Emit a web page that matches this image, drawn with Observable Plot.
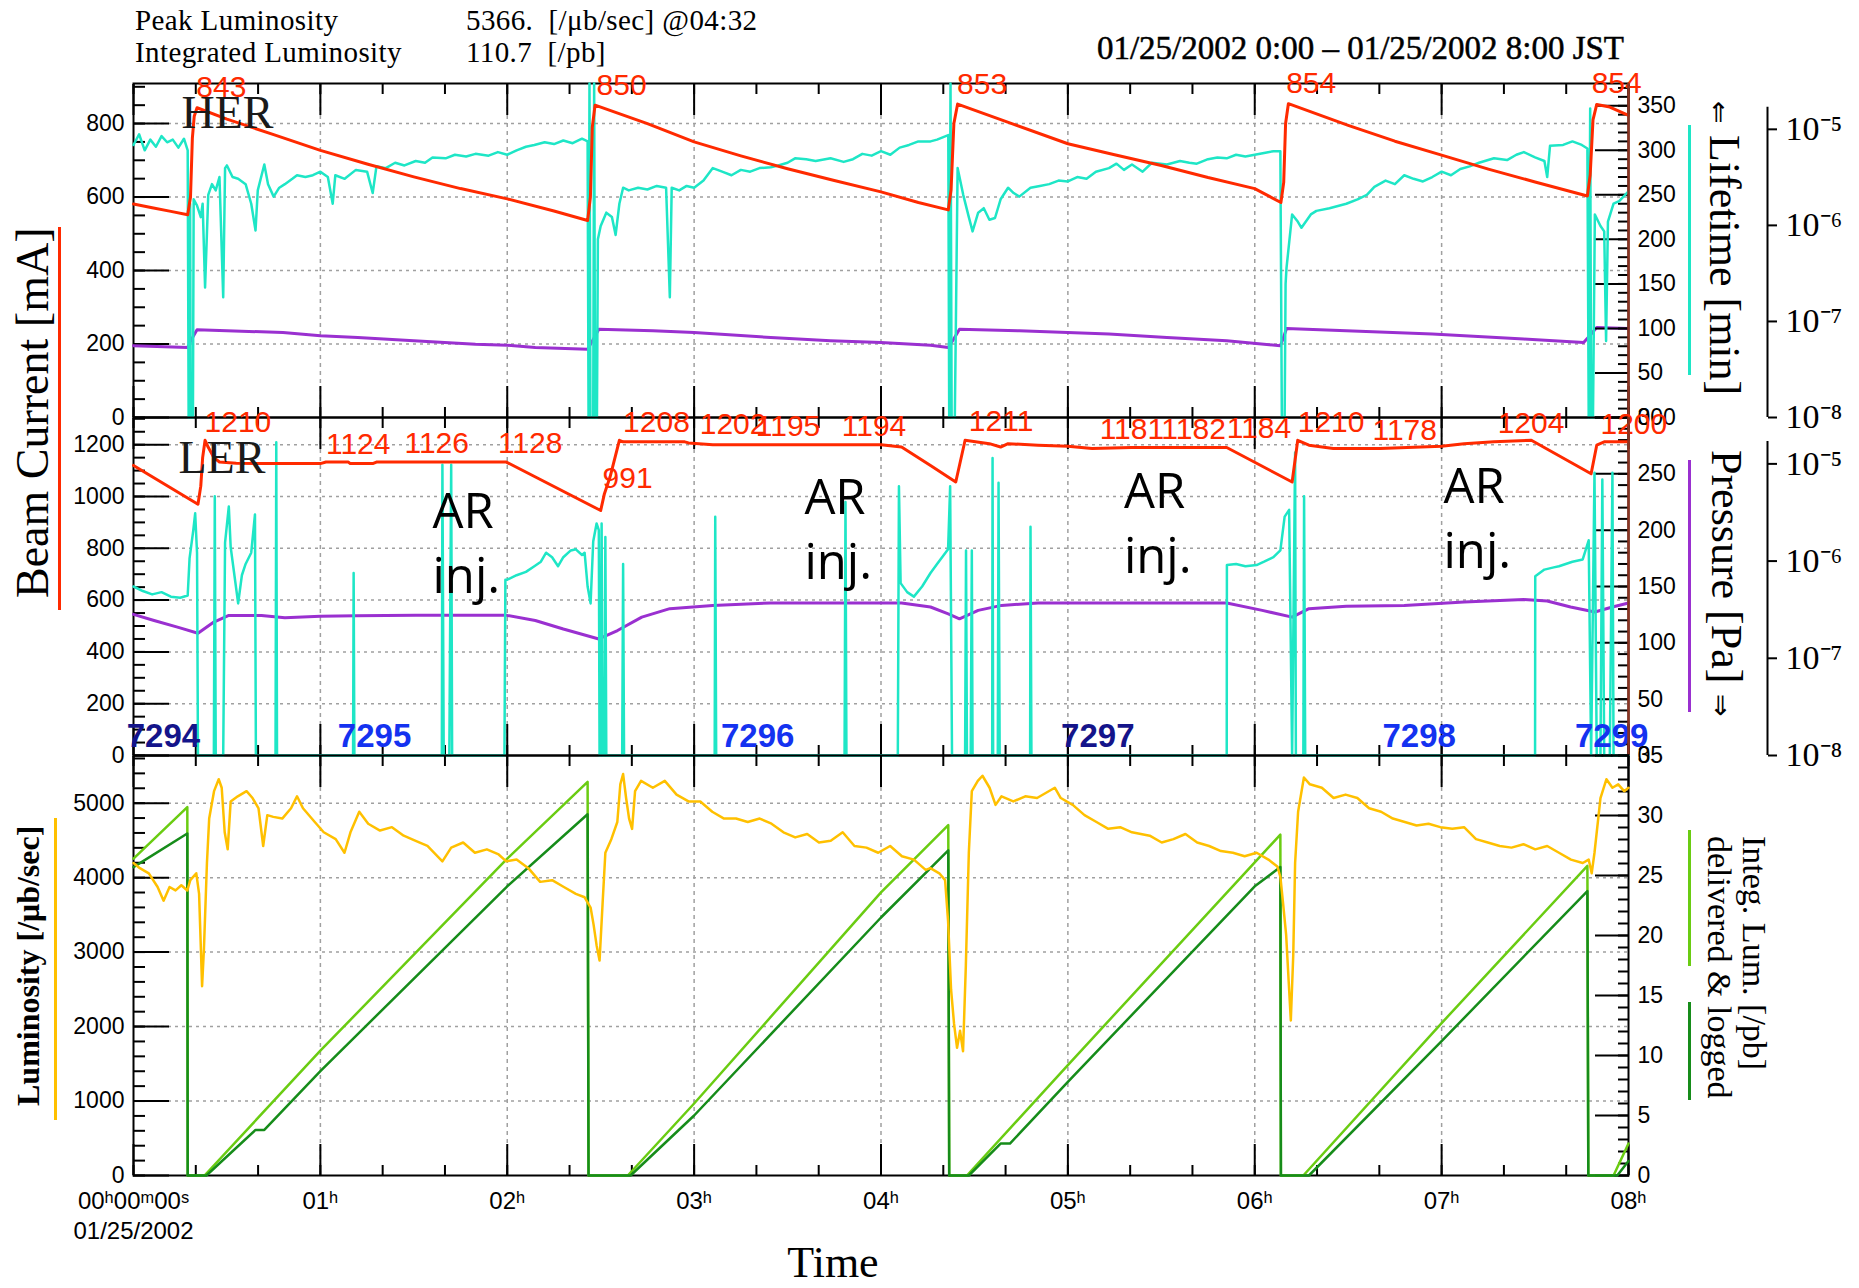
<!DOCTYPE html>
<html><head><meta charset="utf-8">
<script src="https://cdn.jsdelivr.net/npm/d3@7"></script>
<script src="https://cdn.jsdelivr.net/npm/@observablehq/plot@0.6"></script>
<style>
html,body{margin:0;padding:0;background:#fff;}
#chart{position:relative;width:1859px;height:1288px;overflow:hidden;background:#fff;}
#chart svg{position:absolute;left:0;top:0;}
.lbl{position:absolute;white-space:pre;line-height:1;color:#000;font-family:'Liberation Serif','Times New Roman',serif;}
.rotL{transform-origin:0 0;transform:rotate(-90deg);}
.rotR{transform-origin:0 0;transform:rotate(90deg);}
.bar{position:absolute;}
</style></head>
<body><div id="chart"></div>
<script>
// ---------------- data (time in hours since 01/25/2002 00:00 JST) ----------------
const xDomain = [0, 8];
const hourTicks = [0, 1, 2, 3, 4, 5, 6, 7, 8];

// HER beam current [mA]
const herCurrent = [[0,581],[0.1,571],[0.2,561],[0.29,552],[0.305,600],[0.315,760],[0.325,820],[0.34,843],[0.5,812],[0.75,770],[1.0,727],[1.25,690],[1.5,655],[1.75,623],[2.0,595],[2.25,562],[2.43,536],[2.445,600],[2.455,790],[2.47,850],[2.75,800],[3.0,750],[3.25,712],[3.5,677],[3.75,645],[4.0,614],[4.2,585],[4.36,565],[4.375,620],[4.39,800],[4.41,853],[4.7,800],[5.0,745],[5.25,715],[5.5,686],[5.75,653],[6.0,623],[6.14,585],[6.155,640],[6.165,800],[6.18,854],[6.5,795],[6.75,752],[7.0,714],[7.25,676],[7.5,641],[7.78,603],[7.795,660],[7.81,810],[7.83,852],[7.9,845],[8.0,822]];
// HER lifetime [min]
const herLifetime = [[0,306],[0.03,318],[0.06,300],[0.09,312],[0.12,304],[0.15,316],[0.18,309],[0.21,312],[0.24,303],[0.27,313],[0.29,300],[0.295,0],[0.30,0],[0.303,240],[0.306,0],[0.318,0],[0.322,245],[0.34,238],[0.36,225],[0.37,240],[0.383,146],[0.40,250],[0.42,262],[0.44,255],[0.46,270],[0.48,135],[0.49,280],[0.50,283],[0.53,270],[0.56,268],[0.60,262],[0.63,240],[0.653,210],[0.665,255],[0.70,284],[0.72,262],[0.75,248],[0.78,258],[0.81,262],[0.85,268],[0.875,272],[0.92,270],[0.96,272],[1.0,276],[1.04,270],[1.066,240],[1.08,272],[1.13,268],[1.19,278],[1.25,276],[1.28,252],[1.3,282],[1.35,280],[1.4,286],[1.45,283],[1.51,288],[1.56,286],[1.6,292],[1.67,291],[1.72,295],[1.78,293],[1.83,296],[1.9,294],[1.95,298],[2.0,295],[2.05,300],[2.1,304],[2.145,306],[2.2,309],[2.25,307],[2.3,311],[2.35,308],[2.4,313],[2.43,310],[2.435,0],[2.44,375],[2.445,0],[2.46,0],[2.465,375],[2.47,0],[2.48,0],[2.485,200],[2.5,215],[2.53,230],[2.56,225],[2.58,205],[2.6,240],[2.62,258],[2.65,255],[2.7,258],[2.75,256],[2.8,260],[2.85,258],[2.87,135],[2.88,258],[2.92,255],[2.96,260],[3.0,258],[3.05,266],[3.1,280],[3.15,276],[3.2,272],[3.25,278],[3.3,276],[3.35,280],[3.41,281],[3.45,283],[3.5,286],[3.54,291],[3.6,290],[3.65,288],[3.73,291],[3.8,287],[3.85,290],[3.9,296],[3.95,294],[4.0,299],[4.05,295],[4.1,303],[4.15,306],[4.2,310],[4.265,310],[4.3,312],[4.36,317],[4.365,0],[4.372,375],[4.378,0],[4.395,0],[4.41,280],[4.44,250],[4.47,225],[4.49,209],[4.52,230],[4.55,235],[4.58,222],[4.61,224],[4.64,245],[4.68,258],[4.71,252],[4.74,248],[4.8,258],[4.85,260],[4.9,262],[4.95,266],[5.0,265],[5.05,270],[5.1,268],[5.15,276],[5.22,280],[5.26,285],[5.3,278],[5.343,284],[5.4,276],[5.45,286],[5.53,284],[5.6,288],[5.65,286],[5.69,285],[5.75,290],[5.8,292],[5.85,291],[5.9,295],[5.95,293],[6.0,295],[6.05,297],[6.1,299],[6.137,299],[6.145,0],[6.16,0],[6.165,150],[6.17,168],[6.2,228],[6.23,220],[6.25,213],[6.3,228],[6.33,232],[6.4,235],[6.49,240],[6.55,245],[6.6,250],[6.64,259],[6.7,266],[6.75,262],[6.8,272],[6.85,268],[6.9,265],[6.95,270],[7.0,276],[7.05,272],[7.1,279],[7.15,282],[7.2,286],[7.28,291],[7.35,289],[7.4,295],[7.44,298],[7.5,292],[7.55,288],[7.565,270],[7.58,305],[7.65,306],[7.7,310],[7.75,306],[7.78,302],[7.787,0],[7.795,347],[7.80,0],[7.81,0],[7.82,228],[7.85,215],[7.87,209],[7.88,86],[7.89,220],[7.92,240],[7.95,243],[8.0,254]];
// HER pressure [Pa]
const herPressure = [[0,5.58e-8],[0.29,5.36e-8],[0.31,6.5e-8],[0.34,8.18e-8],[0.5,8.0e-8],[0.8,7.67e-8],[1.0,7.1e-8],[1.2,6.8e-8],[1.5,6.3e-8],[1.83,5.8e-8],[2.0,5.66e-8],[2.15,5.36e-8],[2.43,5.15e-8],[2.46,6.5e-8],[2.49,8.3e-8],[2.78,8.0e-8],[3.0,7.67e-8],[3.41,6.8e-8],[3.73,6.3e-8],[4.0,6.04e-8],[4.265,5.66e-8],[4.36,5.36e-8],[4.39,6.6e-8],[4.42,8.3e-8],[4.74,8.0e-8],[5.22,7.38e-8],[5.53,6.8e-8],[5.85,6.3e-8],[6.137,5.58e-8],[6.15,6.5e-8],[6.17,8.45e-8],[6.49,8.0e-8],[6.95,7.38e-8],[7.44,6.55e-8],[7.76,6.04e-8],[7.79,7.0e-8],[7.83,8.66e-8],[8.0,8.45e-8]];
const herPeakTime = [0.336, 2.478, 4.407, 6.168, 7.803];
const herPeakLabel = ["843", "850", "853", "854", "854"];

// LER beam current [mA]
const lerCurrent = [[0,1120],[0.345,970],[0.36,1040],[0.37,1150],[0.383,1217],[0.40,1190],[0.43,1150],[0.46,1133],[0.55,1128],[0.7,1127],[1.0,1127],[1.03,1133],[1.15,1133],[1.16,1127],[1.28,1127],[1.3,1133],[1.5,1133],[1.7,1133],[1.995,1133],[2.5,946],[2.52,1011],[2.55,1075],[2.6,1217],[2.62,1211],[2.95,1211],[2.97,1207],[3.1,1200],[3.5,1200],[4.0,1200],[4.11,1191],[4.265,1120],[4.4,1056],[4.45,1217],[4.58,1204],[4.64,1191],[4.68,1204],[4.84,1198],[5.0,1194],[5.13,1185],[5.34,1189],[5.5,1189],[5.85,1189],[6.2,1056],[6.23,1217],[6.29,1198],[6.42,1185],[6.67,1185],[7.0,1194],[7.12,1204],[7.28,1211],[7.48,1217],[7.8,1088],[7.83,1198],[7.87,1211],[8.0,1211]];
// LER lifetime [min]
const lerLifetime = [[0,150],[0.05,146],[0.1,143],[0.15,145],[0.2,141],[0.25,140],[0.29,142],[0.30,175],[0.32,200],[0.33,215],[0.34,180],[0.345,0],[0.43,0],[0.435,230],[0.44,0],[0.48,0],[0.49,189],[0.51,221],[0.52,185],[0.54,160],[0.56,135],[0.58,160],[0.6,170],[0.63,180],[0.65,214],[0.655,0],[0.76,0],[0.764,278],[0.768,0],[1.175,0],[1.178,162],[1.182,0],[1.65,0],[1.653,258],[1.66,0],[1.69,0],[1.70,258],[1.705,0],[1.985,0],[1.99,156],[2.0,156],[2.05,160],[2.1,163],[2.145,168],[2.18,172],[2.208,180],[2.24,176],[2.272,168],[2.3,176],[2.34,182],[2.367,183],[2.4,178],[2.414,180],[2.43,150],[2.446,135],[2.46,190],[2.478,206],[2.49,200],[2.494,0],[2.5,0],[2.505,206],[2.51,0],[2.52,0],[2.525,194],[2.53,0],[2.615,0],[2.62,170],[2.625,0],[3.11,0],[3.113,212],[3.118,0],[3.805,0],[3.81,225],[3.815,0],[4.09,0],[4.096,239],[4.105,153],[4.14,145],[4.176,141],[4.22,150],[4.265,162],[4.3,170],[4.359,183],[4.37,239],[4.38,0],[4.45,0],[4.455,182],[4.46,0],[4.48,0],[4.486,182],[4.49,0],[4.595,0],[4.597,264],[4.6,0],[4.625,0],[4.629,242],[4.635,0],[4.798,0],[4.8,203],[4.805,0],[5.85,0],[5.851,169],[5.9,170],[5.95,168],[6.01,169],[6.05,172],[6.1,176],[6.137,182],[6.16,212],[6.184,218],[6.2,0],[6.216,269],[6.22,0],[6.26,0],[6.264,230],[6.27,0],[7.5,0],[7.501,159],[7.55,165],[7.6,167],[7.628,168],[7.7,172],[7.755,174],[7.787,191],[7.80,0],[7.818,251],[7.83,0],[7.85,0],[7.86,245],[7.87,0],[7.9,0],[7.914,251],[7.92,0],[8.0,0]];
// LER pressure [Pa]
const lerPressure = [[0,2.83e-7],[0.11,2.45e-7],[0.24,2.08e-7],[0.345,1.81e-7],[0.43,2.36e-7],[0.51,2.76e-7],[0.685,2.76e-7],[0.81,2.61e-7],[1.0,2.7e-7],[1.19,2.74e-7],[1.51,2.78e-7],[1.99,2.78e-7],[2.15,2.45e-7],[2.3,2.0e-7],[2.49,1.58e-7],[2.59,1.93e-7],[2.72,2.65e-7],[2.87,3.24e-7],[3.1,3.5e-7],[3.41,3.71e-7],[3.73,3.71e-7],[4.11,3.71e-7],[4.265,3.37e-7],[4.36,2.87e-7],[4.42,2.55e-7],[4.52,3.11e-7],[4.645,3.5e-7],[4.84,3.71e-7],[5.22,3.71e-7],[5.85,3.71e-7],[6.04,3.11e-7],[6.2,2.65e-7],[6.29,3.24e-7],[6.49,3.43e-7],[6.8,3.5e-7],[7.12,3.8e-7],[7.44,4.02e-7],[7.565,3.89e-7],[7.69,3.37e-7],[7.82,2.99e-7],[7.914,3.37e-7],[8.0,3.71e-7]];
const lerLabelTime = [0.38, 1.03, 1.45, 1.95, 2.51, 2.62, 3.03, 3.33, 3.79, 4.47, 5.17, 5.50, 5.85, 6.23, 6.63, 7.30, 7.85];
const lerLabelText = ["1210","1124","1126","1128","991","1208","1202","1195","1194","1211","1181","1182","1184","1210","1178","1204","1200"];
const runTime = [0.16, 1.29, 3.34, 5.16, 6.88, 7.91];
const runLabel = ["7294", "7295", "7296", "7297", "7298", "7299"];
const arTime = [1.60, 3.59, 5.30, 7.01];
const arLevel = [1058, 1112, 1135, 1154];

// Luminosity [/µb/sec]
const luminosity = [[0,4196],[0.034,4127],[0.082,4058],[0.129,3874],[0.161,3690],[0.193,3874],[0.225,3828],[0.256,3897],[0.288,3828],[0.304,3966],[0.336,4058],[0.351,3782],[0.367,2541],[0.377,3047],[0.393,4196],[0.405,4793],[0.431,5161],[0.456,5322],[0.472,5207],[0.488,4609],[0.504,4380],[0.52,5023],[0.558,5092],[0.605,5161],[0.637,5069],[0.669,4931],[0.694,4425],[0.716,4839],[0.748,4816],[0.796,4793],[0.843,4931],[0.875,5092],[0.907,4931],[0.97,4747],[1.018,4609],[1.082,4517],[1.129,4334],[1.161,4609],[1.208,4885],[1.256,4724],[1.319,4632],[1.383,4678],[1.446,4563],[1.51,4494],[1.573,4425],[1.653,4219],[1.70,4403],[1.764,4472],[1.827,4334],[1.891,4380],[1.954,4311],[1.995,4219],[2.05,4242],[2.113,4127],[2.176,3943],[2.24,3966],[2.303,3874],[2.367,3782],[2.414,3736],[2.446,3598],[2.462,3369],[2.478,3093],[2.494,2886],[2.51,3644],[2.525,4334],[2.557,4517],[2.589,4747],[2.605,5253],[2.62,5391],[2.636,5069],[2.652,4793],[2.668,4655],[2.684,5161],[2.716,5299],[2.779,5207],[2.843,5299],[2.906,5115],[2.97,5023],[3.033,5023],[3.097,4885],[3.16,4793],[3.224,4793],[3.287,4747],[3.351,4793],[3.414,4724],[3.478,4609],[3.541,4540],[3.605,4586],[3.668,4472],[3.731,4494],[3.795,4609],[3.858,4425],[3.922,4403],[3.985,4334],[4.049,4425],[4.112,4288],[4.176,4242],[4.239,4104],[4.264,4127],[4.312,4058],[4.343,3966],[4.359,3414],[4.375,2495],[4.391,2036],[4.407,1714],[4.423,1944],[4.439,1668],[4.454,2817],[4.47,4334],[4.486,5161],[4.518,5299],[4.543,5368],[4.581,5207],[4.613,4977],[4.645,5092],[4.708,5023],[4.772,5092],[4.835,5069],[4.93,5207],[4.962,5069],[5.026,4977],[5.089,4839],[5.153,4747],[5.216,4655],[5.28,4678],[5.343,4609],[5.438,4563],[5.502,4472],[5.565,4517],[5.629,4586],[5.692,4472],[5.756,4425],[5.819,4357],[5.883,4334],[5.946,4288],[6.01,4334],[6.073,4242],[6.121,4150],[6.137,4012],[6.152,3644],[6.168,3231],[6.184,2495],[6.193,2082],[6.206,2957],[6.216,4196],[6.232,4885],[6.263,5345],[6.295,5253],[6.359,5207],[6.422,5069],[6.486,5115],[6.549,5069],[6.612,4931],[6.676,4885],[6.739,4793],[6.803,4747],[6.866,4701],[6.93,4724],[6.993,4678],[7.057,4655],[7.12,4678],[7.184,4517],[7.247,4472],[7.311,4425],[7.374,4403],[7.438,4449],[7.501,4380],[7.565,4425],[7.628,4334],[7.692,4242],[7.755,4196],[7.787,4242],[7.803,4058],[7.818,4334],[7.85,5069],[7.882,5322],[7.914,5207],[7.945,5253],[7.977,5161],[8.0,5207]];
// Integrated luminosity [/pb]
const integDelivered = [[0,26.4],[0.288,30.7],[0.29,0],[0.38,0],[1.0,10.4],[2.0,26.4],[2.43,32.8],[2.435,0],[2.645,0],[3.0,6.0],[4.0,23.6],[4.36,29.2],[4.365,0],[4.46,0],[5.0,9.2],[6.0,26.1],[6.137,28.4],[6.14,0],[6.26,0],[7.0,12.7],[7.78,25.8],[7.785,0],[7.92,0],[8.0,2.66]];
const integLogged = [[0,25.7],[0.288,28.5],[0.29,0],[0.39,0],[0.653,3.8],[0.70,3.8],[1.0,8.7],[2.0,24.1],[2.43,30.1],[2.435,0],[2.66,0],[3.0,5.0],[4.0,21.5],[4.36,27.1],[4.365,0],[4.47,0],[4.64,2.66],[4.69,2.66],[5.0,7.8],[6.0,24.1],[6.137,25.7],[6.14,0],[6.29,0],[7.0,11.2],[7.78,23.7],[7.785,0],[7.94,0],[8.0,1.2]];

// ---------------- styles ----------------
const RED = "#ff2a00", CYAN = "#1ee6c6", PURPLE = "#9a30d0", YELLOW = "#ffc000", LGREEN = "#6acc12", DGREEN = "#168c1a";
const BLUE = "#1432f0", NAVY = "#14148a", FRAME_R = "#8c3422", GRID = "#a0a0a0";
const SANS = "'Liberation Sans', Arial, Helvetica, sans-serif";
const SERIF = "'Liberation Serif', 'Times New Roman', serif";

const W = 1859, H = 1288, ML = 133, MR = 231;
const panelBox = {her: [83, 417], ler: [417, 755], lum: [755, 1175]};
const minorX = d3.range(0, 8.0001, 1 / 3);
const logDomain = [1e-8, 3.0e-5], logTicks = [1e-8, 1e-7, 1e-6, 1e-5], logAxisSpan = [1e-8, 1.7e-5];
const X = d => d[0], Y = d => d[1];

const SUP = {"-": "\u207B", "0": "\u2070", "1": "\u00B9", "2": "\u00B2", "3": "\u00B3", "4": "\u2074", "5": "\u2075", "6": "\u2076", "7": "\u2077", "8": "\u2078", "9": "\u2079"};
const fmtPow = d => "10" + String(Math.round(Math.log10(d))).split("").map(c => SUP[c]).join("");
const fmtHour = h => h === 0 ? "00\u02B000\u1D5000\u02E2\n01/25/2002" : String(h).padStart(2, "0") + "\u02B0";
const fmtNum = d => String(d);

function layer(panel, yScale, marks) {
  const [t, b] = panelBox[panel];
  return Plot.plot({
    width: W, height: H, marginLeft: ML, marginRight: MR, marginTop: t, marginBottom: H - b,
    x: {domain: xDomain, axis: null},
    y: {...yScale, axis: null},
    style: `background:transparent;overflow:visible;font-family:${SANS};font-size:23px;color:#000;`,
    marks
  });
}
const blank = () => "";
function leftAxis(major, minor) {
  return [
    Plot.axisY(minor, {anchor: "left", tickSize: -12, tickFormat: blank, strokeWidth: 2, label: null}),
    Plot.axisY(major, {anchor: "left", tickSize: -36, tickFormat: blank, strokeWidth: 2, label: null}),
    Plot.axisY(major, {anchor: "left", tickSize: 0, tickPadding: 9, tickFormat: fmtNum, fontSize: 23, fontFamily: SANS, label: null})
  ];
}
function rightAxis(major, minor) {
  return [
    Plot.axisY(minor, {anchor: "right", tickSize: -11, tickFormat: blank, strokeWidth: 2, label: null}),
    Plot.axisY(major, {anchor: "right", tickSize: -34, tickFormat: blank, strokeWidth: 2, label: null}),
    Plot.axisY(major, {anchor: "right", tickSize: 0, tickPadding: 9, tickFormat: fmtNum, fontSize: 23, fontFamily: SANS, label: null})
  ];
}
function xTickMarks() {
  return ["top", "bottom"].flatMap(anchor => [
    Plot.axisX(minorX, {anchor, tickSize: -10, tickFormat: blank, strokeWidth: 2, label: null}),
    Plot.axisX(hourTicks, {anchor, tickSize: -31, tickFormat: blank, strokeWidth: 2, label: null})
  ]);
}
function grids(major) {
  return [
    Plot.gridY(major.filter(d => d > 0), {stroke: GRID, strokeOpacity: 1, strokeWidth: 1.5, strokeDasharray: "3,4"}),
    Plot.gridX(hourTicks.slice(1, -1), {stroke: GRID, strokeOpacity: 1, strokeWidth: 1.5, strokeDasharray: "4,4"})
  ];
}
function logLayer(panel, series) {
  return layer(panel, {type: "log", domain: logDomain}, [
    Plot.ruleX([xDomain[1]], {y1: logAxisSpan[0], y2: logAxisSpan[1], dx: 139, strokeWidth: 2}),
    Plot.axisY(logTicks, {anchor: "right", dx: 139, tickSize: 9, tickPadding: 9, tickFormat: fmtPow, fontSize: 34, fontFamily: SERIF, strokeWidth: 2, label: null}),
    Plot.line(series, {x: X, y: Y, stroke: PURPLE, strokeWidth: 3})
  ]);
}
// current labels sit just above the current value they report
function valueLabels(times, texts) {
  return Plot.text(d3.zip(times, texts), {x: X, y: d => +d[1], text: Y, textAnchor: "start", lineAnchor: "middle", dy: -20, fill: RED, fontSize: 30, fontFamily: SANS});
}

const herY = {domain: [0, 909]}, herLifeY = {domain: [0, 375]};
const lerY = {domain: [0, 1305]}, lerLifeY = {domain: [0, 300]};
const lumY = {domain: [0, 5640]}, intY = {domain: [0, 35]};

const herMajor = d3.range(0, 801, 200), herMinor = d3.range(0, 909, 50);
const lerMajor = d3.range(0, 1201, 200), lerMinor = d3.range(0, 1305, 50);
const lumMajor = d3.range(0, 5001, 1000), lumMinor = d3.range(0, 5640, 200);

const svgs = [];
// ---- HER panel ----
svgs.push(layer("her", herY, [...grids(herMajor), ...leftAxis(herMajor, herMinor), ...xTickMarks(), Plot.frame({strokeWidth: 2})]));
svgs.push(logLayer("her", herPressure));
svgs.push(layer("her", herLifeY, [
  ...rightAxis(d3.range(0, 351, 50), d3.range(0, 375, 10)),
  Plot.line(herLifetime, {x: X, y: Y, stroke: CYAN, strokeWidth: 2.5})
]));
svgs.push(layer("her", herY, [
  Plot.line(herCurrent, {x: X, y: Y, stroke: RED, strokeWidth: 3}),
  Plot.text(["HER"], {text: d => d, frameAnchor: "top-left", textAnchor: "start", lineAnchor: "top", dx: 48, dy: 12, fontSize: 46, fontFamily: SERIF, fill: "#1a1a1a"}),
  valueLabels(herPeakTime, herPeakLabel),
  Plot.ruleX([xDomain[1]], {stroke: FRAME_R, strokeWidth: 2.5})
]));
// ---- LER panel ----
svgs.push(layer("ler", lerY, [...grids(lerMajor), ...leftAxis(lerMajor, lerMinor), ...xTickMarks(), Plot.frame({strokeWidth: 2})]));
svgs.push(logLayer("ler", lerPressure));
svgs.push(layer("ler", lerLifeY, [
  ...rightAxis(d3.range(0, 301, 50), d3.range(0, 301, 10)),
  Plot.line(lerLifetime, {x: X, y: Y, stroke: CYAN, strokeWidth: 2.5})
]));
const runs = d3.zip(runTime, runLabel);
const isNavy = d => d[1] === "7294" || d[1] === "7297";
svgs.push(layer("ler", lerY, [
  Plot.line(lerCurrent, {x: X, y: Y, stroke: RED, strokeWidth: 3}),
  Plot.text(["LER"], {text: d => d, frameAnchor: "top-left", textAnchor: "start", lineAnchor: "top", dx: 45, dy: 23, fontSize: 46, fontFamily: SERIF, fill: "#1a1a1a"}),
  valueLabels(lerLabelTime, lerLabelText),
  Plot.text(runs.filter(isNavy), {x: X, text: Y, frameAnchor: "bottom", lineAnchor: "middle", dy: -19, fill: NAVY, fontSize: 33, fontWeight: "bold", fontFamily: SANS}),
  Plot.text(runs.filter(d => !isNavy(d)), {x: X, text: Y, frameAnchor: "bottom", lineAnchor: "middle", dy: -19, fill: BLUE, fontSize: 33, fontWeight: "bold", fontFamily: SANS}),
  Plot.text(d3.zip(arTime, arLevel), {x: X, y: Y, text: () => "AR\ninj.", textAnchor: "start", lineAnchor: "top", lineHeight: 1.33, fontSize: 49, fontFamily: "'Open Sans', 'Noto Sans', sans-serif", fill: "#000"}),
  Plot.ruleX([xDomain[1]], {stroke: FRAME_R, strokeWidth: 2.5})
]));
// ---- Luminosity panel ----
svgs.push(layer("lum", lumY, [
  ...grids(lumMajor), ...leftAxis(lumMajor, lumMinor), ...xTickMarks(),
  Plot.axisX(hourTicks, {anchor: "bottom", tickSize: 0, tickPadding: 12, tickFormat: fmtHour, fontSize: 24, lineHeight: 1.25, fontFamily: SANS, label: null}),
  Plot.frame({strokeWidth: 2})
]));
svgs.push(layer("lum", intY, [
  ...rightAxis(d3.range(0, 36, 5), d3.range(0, 36, 1)),
  Plot.line(integDelivered, {x: X, y: Y, stroke: LGREEN, strokeWidth: 2.5}),
  Plot.line(integLogged, {x: X, y: Y, stroke: DGREEN, strokeWidth: 2.5})
]));
svgs.push(layer("lum", lumY, [
  Plot.line(luminosity, {x: X, y: Y, stroke: YELLOW, strokeWidth: 2.5})
]));

const chart = document.getElementById("chart");
svgs.forEach(s => chart.appendChild(s));

function label(html, css, cls = "") {
  const d = document.createElement("div");
  d.className = "lbl " + cls;
  d.innerHTML = html;
  d.style.cssText += css;
  chart.appendChild(d);
}
function bar(color, left, top, height) {
  const d = document.createElement("div");
  d.className = "bar";
  d.style.cssText = `left:${left}px;top:${top}px;width:3px;height:${height}px;background:${color};`;
  chart.appendChild(d);
}
// header
label("Peak Luminosity", "left:135px;top:6px;font-size:29px;letter-spacing:0.4px;");
label("Integrated Luminosity", "left:135px;top:38px;font-size:29px;letter-spacing:0.4px;");
label("5366.  [/\u03BCb/sec] @04:32", "left:466px;top:6px;font-size:29px;letter-spacing:0.4px;");
label("110.7  [/pb]", "left:466px;top:38px;font-size:29px;letter-spacing:0.4px;");
label("01/25/2002 0:00 \u2013 01/25/2002 8:00 JST", "left:1624px;top:32px;font-size:33px;transform:translateX(-100%);-webkit-text-stroke:0.5px #000;");
// left titles
label("Beam Current [mA]", "left:10px;top:598px;font-size:46px;", "rotL");
bar(RED, 58, 227, 383);
label("Luminosity [/\u03BCb/sec]", "left:12px;top:1106px;font-size:32px;font-weight:bold;", "rotL");
bar(YELLOW, 54, 818, 302);
// right titles
label("<span style='font-size:27px'>\u21D0</span> Lifetime [min]", "left:1746px;top:101px;font-size:44px;", "rotR");
bar(CYAN, 1688, 125, 250);
label("Pressure [Pa] <span style='font-size:27px'>\u21D2</span>", "left:1748px;top:450px;font-size:44px;", "rotR");
bar(PURPLE, 1688, 460, 252);
label("Integ. Lum. [/pb]\ndelivered &amp; logged", "left:1772px;top:836px;font-size:34px;line-height:35px;", "rotR");
bar(LGREEN, 1688, 830, 136);
bar(DGREEN, 1688, 1002, 98);
// x title
label("Time", "left:833px;top:1243px;font-size:44px;line-height:0.9;transform:translateX(-50%);");
</script>
</body></html>
